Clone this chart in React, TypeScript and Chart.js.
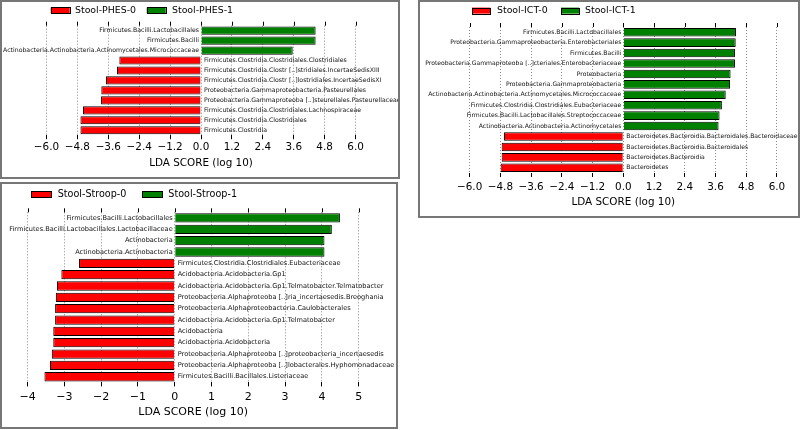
import React, { useEffect, useRef } from "react";
import { Chart, registerables } from "chart.js";

Chart.register(...registerables);

// ---------- DATA ----------
const phesGroups = ["Stool-PHES-0", "Stool-PHES-1"];
const phesCategories = [
  "Firmicutes.Bacilli.Lactobacillales",
  "Firmicutes.Bacilli",
  "Actinobacteria.Actinobacteria.Actinomycetales.Micrococcaceae",
  "Firmicutes.Clostridia.Clostridiales.Clostridiales",
  "Firmicutes.Clostridia.Clostr [..]stridiales.IncertaeSedisXIII",
  "Firmicutes.Clostridia.Clostr [..]lostridiales.IncertaeSedisXI",
  "Proteobacteria.Gammaproteobacteria.Pasteurellales",
  "Proteobacteria.Gammaproteoba [..]steurellales.Pasteurellaceae",
  "Firmicutes.Clostridia.Clostridiales.Lachnospiraceae",
  "Firmicutes.Clostridia.Clostridiales",
  "Firmicutes.Clostridia",
];
const phesScores = [4.45, 4.45, 3.56, -3.17, -3.26, -3.69, -3.87, -3.88, -4.58, -4.68, -4.68];
const phesTicks = [-6.0, -4.8, -3.6, -2.4, -1.2, 0.0, 1.2, 2.4, 3.6, 4.8, 6.0];

const ictGroups = ["Stool-ICT-0", "Stool-ICT-1"];
const ictCategories = [
  "Firmicutes.Bacilli.Lactobacillales",
  "Proteobacteria.Gammaproteobacteria.Enterobacteriales",
  "Firmicutes.Bacilli",
  "Proteobacteria.Gammaproteoba [..]cteriales.Enterobacteriaceae",
  "Proteobacteria",
  "Proteobacteria.Gammaproteobacteria",
  "Actinobacteria.Actinobacteria.Actinomycetales.Micrococcaceae",
  "Firmicutes.Clostridia.Clostridiales.Eubacteriaceae",
  "Firmicutes.Bacilli.Lactobacillales.Streptococcaceae",
  "Actinobacteria.Actinobacteria.Actinomycetales",
  "Bacteroidetes.Bacteroidia.Bacteroidales.Bacteroidaceae",
  "Bacteroidetes.Bacteroidia.Bacteroidales",
  "Bacteroidetes.Bacteroidia",
  "Bacteroidetes",
];
const ictScores = [4.4, 4.39, 4.36, 4.36, 4.19, 4.17, 4.0, 3.85, 3.76, 3.72, -4.66, -4.75, -4.75, -4.79];
const ictTicks = [-6.0, -4.8, -3.6, -2.4, -1.2, 0.0, 1.2, 2.4, 3.6, 4.8, 6.0];

const stroopGroups = ["Stool-Stroop-0", "Stool-Stroop-1"];
const stroopCategories = [
  "Firmicutes.Bacilli.Lactobacillales",
  "Firmicutes.Bacilli.Lactobacillales.Lactobacillaceae",
  "Actinobacteria",
  "Actinobacteria.Actinobacteria",
  "Firmicutes.Clostridia.Clostridiales.Eubacteriaceae",
  "Acidobacteria.Acidobacteria.Gp1",
  "Acidobacteria.Acidobacteria.Gp1.Telmatobacter.Telmatobacter",
  "Proteobacteria.Alphaproteoba [..]ria_incertaesedis.Breoghania",
  "Proteobacteria.Alphaproteobacteria.Caulobacterales",
  "Acidobacteria.Acidobacteria.Gp1.Telmatobacter",
  "Acidobacteria",
  "Acidobacteria.Acidobacteria",
  "Proteobacteria.Alphaproteoba [..]proteobacteria_incertaesedis",
  "Proteobacteria.Alphaproteoba [..]lobacterales.Hyphomonadaceae",
  "Firmicutes.Bacilli.Bacillales.Listeriaceae",
];
const stroopScores = [4.49, 4.27, 4.07, 4.07, -2.6, -3.08, -3.2, -3.23, -3.25, -3.25, -3.3, -3.3, -3.34, -3.39, -3.54];
const stroopTicks = [-4, -3, -2, -1, 0, 1, 2, 3, 4, 5];

const axisTitle = "LDA SCORE (log 10)";

// ---------- STYLE / LAYOUT ----------
const RED = "#ff0000";
const GREEN = "#008000";
const FONT = "DejaVu Sans";

type PanelCfg = {
  groups: string[];
  categories: string[];
  scores: number[];
  ticks: number[];
  decimals: number;
  box: { L: number; T: number; W: number; H: number };
  xmin: number;
  xmax: number;
  padding: { left: number; right: number; top: number; bottom: number };
  axisHeight: number;
  tickPad: number;
  tickFont: number;
  labelFont: number;
  legend: { boxX: number[]; textX: number[]; y: number; w: number; h: number; font: number };
};

const panels: PanelCfg[] = [
  {
    groups: phesGroups,
    categories: phesCategories,
    scores: phesScores,
    ticks: phesTicks,
    decimals: 1,
    box: { L: 0, T: 0, W: 400, H: 179 },
    xmin: -6.6,
    xmax: 6.6,
    padding: { left: 31, right: 29, top: 25.7, bottom: 9 },
    axisHeight: 34.8,
    tickPad: 2,
    tickFont: 10.4,
    labelFont: 6.2,
    legend: { boxX: [50.7, 146.7], textX: [75, 172], y: 10.4, w: 19, h: 6, font: 9.4 },
  },
  {
    groups: ictGroups,
    categories: ictCategories,
    scores: ictScores,
    ticks: ictTicks,
    decimals: 1,
    box: { L: 418, T: 0, W: 382, H: 218 },
    xmin: -6.6,
    xmax: 6.6,
    padding: { left: 36.3, right: 7.7, top: 27, bottom: 9 },
    axisHeight: 36,
    tickPad: 4,
    tickFont: 10.4,
    labelFont: 6.1,
    legend: { boxX: [54, 143], textX: [79, 167], y: 10.6, w: 18, h: 6, font: 9.4 },
  },
  {
    groups: stroopGroups,
    categories: stroopCategories,
    scores: stroopScores,
    ticks: stroopTicks,
    decimals: 0,
    box: { L: 0, T: 182, W: 398, H: 247 },
    xmin: -4.4,
    xmax: 5.4,
    padding: { left: 12.8, right: 24.6, top: 30.3, bottom: 10 },
    axisHeight: 36.6,
    tickPad: 4.5,
    tickFont: 11,
    labelFont: 6.6,
    legend: { boxX: [31, 142.3], textX: [57.7, 168.3], y: 12, w: 20, h: 6, font: 9.6 },
  },
];

function fmt(v: number, d: number) {
  const s = Math.abs(v).toFixed(d);
  return v < 0 ? "\u2212" + s : s;
}

function LefsePanel({ cfg }: { cfg: PanelCfg }) {
  const ref = useRef<HTMLCanvasElement>(null);
  useEffect(() => {
    const plugin = {
      id: "lefse",
      afterDraw(chart: any) {
        const ctx = chart.ctx as CanvasRenderingContext2D;
        const xs = chart.scales.x;
        const ys = chart.scales.y;
        const area = chart.chartArea;
        ctx.save();
        // top tick marks
        ctx.strokeStyle = "#000";
        ctx.lineWidth = 1;
        xs.ticks.forEach((t: any) => {
          const px = Math.round(xs.getPixelForValue(t.value)) + 0.5;
          ctx.beginPath();
          ctx.moveTo(px, area.top - 4);
          ctx.lineTo(px, area.top);
          ctx.stroke();
        });
        // category labels at zero line
        const zero = xs.getPixelForValue(0);
        ctx.font = `${cfg.labelFont}px "${FONT}"`;
        ctx.fillStyle = "#111";
        ctx.textBaseline = "middle";
        (chart.data.labels as string[]).forEach((lab, i) => {
          const v = cfg.scores[i];
          const py = ys.getPixelForValue(i);
          if (v < 0) {
            ctx.textAlign = "left";
            ctx.fillText(lab, zero + 3, py);
          } else {
            ctx.textAlign = "right";
            ctx.fillText(lab, zero - 2, py);
          }
        });
        // legend
        const lg = cfg.legend;
        ctx.font = `${lg.font}px "${FONT}"`;
        ctx.textAlign = "left";
        chart.data.datasets.forEach((ds: any, i: number) => {
          const bx = lg.boxX[i];
          ctx.fillStyle = ds.backgroundColor;
          ctx.fillRect(bx, lg.y - lg.h / 2, lg.w, lg.h);
          ctx.strokeStyle = "#000";
          ctx.lineWidth = 1;
          ctx.strokeRect(Math.round(bx) + 0.5, Math.round(lg.y - lg.h / 2) + 0.5, lg.w, lg.h);
          ctx.fillStyle = "#000";
          ctx.fillText(ds.label, lg.textX[i], lg.y);
        });
        ctx.restore();
      },
    };

    const chart = new Chart(ref.current as HTMLCanvasElement, {
      type: "bar",
      data: {
        labels: cfg.categories,
        datasets: [
          {
            label: cfg.groups[0],
            data: cfg.scores.map((v) => (v < 0 ? v : null)),
            backgroundColor: RED,
            borderColor: "#000",
            borderWidth: 1,
            barPercentage: 0.82,
            categoryPercentage: 1,
          },
          {
            label: cfg.groups[1],
            data: cfg.scores.map((v) => (v > 0 ? v : null)),
            backgroundColor: GREEN,
            borderColor: "#000",
            borderWidth: 1,
            barPercentage: 0.82,
            categoryPercentage: 1,
          },
        ],
      },
      options: {
        indexAxis: "y",
        animation: false,
        responsive: false,
        maintainAspectRatio: false,
        layout: { padding: cfg.padding },
        plugins: {
          legend: { display: false },
          tooltip: { enabled: false },
          title: { display: false },
        },
        scales: {
          x: {
            type: "linear",
            min: cfg.xmin,
            max: cfg.xmax,
            stacked: true,
            z: 1,
            afterBuildTicks: (s: any) => {
              s.ticks = cfg.ticks.map((v) => ({ value: v }));
            },
            afterFit: (s: any) => {
              s.height = cfg.axisHeight;
            },
            border: { display: false, dash: [1, 2] },
            grid: {
              color: "#8a8a8a",
              lineWidth: 1,
              drawOnChartArea: true,
              drawTicks: true,
              tickLength: 4,
              tickColor: "#000",
              tickBorderDash: [],
            },
            ticks: {
              autoSkip: false,
              maxRotation: 0,
              padding: cfg.tickPad,
              color: "#000",
              font: { family: FONT, size: cfg.tickFont },
              callback: (v: any) => fmt(Number(v), cfg.decimals),
            },
            title: {
              display: true,
              text: axisTitle,
              color: "#000",
              font: { family: FONT, size: cfg.tickFont },
              padding: 0,
            },
          },
          y: {
            type: "category",
            display: false,
            stacked: true,
          },
        },
      } as any,
      plugins: [plugin as any],
    });
    return () => chart.destroy();
  }, [cfg]);

  const { L, T, W, H } = cfg.box;
  return (
    <>
      <div style={{ position: "absolute", left: L, top: T, width: W, height: H }}>
        <canvas ref={ref} width={W} height={H} style={{ width: W, height: H, display: "block" }} />
      </div>
      <div
        style={{
          position: "absolute",
          left: L,
          top: T,
          width: W,
          height: H,
          boxSizing: "border-box",
          border: "2px solid #777",
          pointerEvents: "none",
        }}
      />
    </>
  );
}

export default function App() {
  return (
    <div style={{ position: "absolute", left: 0, top: 0, width: 800, height: 430, background: "#fff" }}>
      {panels.map((p, i) => (
        <LefsePanel key={i} cfg={p} />
      ))}
    </div>
  );
}
